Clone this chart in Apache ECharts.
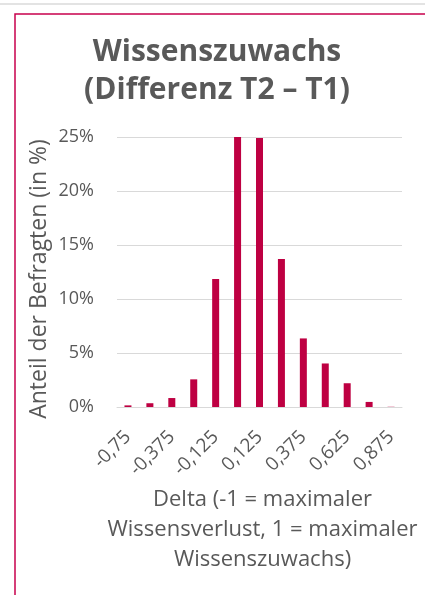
<!DOCTYPE html>
<html>
<head>
<meta charset="utf-8">
<script src="https://cdn.jsdelivr.net/npm/echarts@6/dist/echarts.min.js"></script>
<style>
  html, body { margin: 0; padding: 0; background: #fff; }
  #chart { width: 425px; height: 595px; }
</style>
</head>
<body>
<div id="chart"></div>
<script>
// Delta-Kategorien (x-Achse)
const categories = ["-0,75", "-0,5", "-0,375", "-0,25", "-0,125", "0", "0,125", "0,25", "0,375", "0,5", "0,625", "0,75", "0,875"];
// Anteil der Befragten in %
const shares = [0.15, 0.35, 0.83, 2.56, 11.85, 25.1, 24.9, 13.7, 6.35, 4.03, 2.2, 0.47, 0.02];
// y-Achse
const yMin = 0;
const yMax = 25;
const yStep = 5;

const textColor = "#595959";
const barColor = "#be0042";
const gridColor = "#d9d9d9";

const chart = echarts.init(document.getElementById("chart"), null, { renderer: "canvas" });

chart.setOption({
  backgroundColor: "#fff",
  animation: false,
  textStyle: { fontFamily: "Open Sans" },
  title: {
    text: "Wissenszuwachs\n(Differenz T2 – T1)",
    left: 212,
    textAlign: "center",
    top: 28,
    textStyle: {
      fontFamily: "Open Sans",
      fontWeight: "bold",
      fontSize: 30,
      lineHeight: 38,
      color: textColor
    }
  },
  graphic: [
    { type: "line", shape: { x1: 0, y1: 4, x2: 425, y2: 4 }, style: { stroke: "#e3e3e3", lineWidth: 2 } },
    { type: "rect", shape: { x: 15, y: 14, width: 600, height: 700 }, style: { fill: null, stroke: "#c8004c", lineWidth: 1.5 } },
    // y-Achsentitel
    {
      type: "text",
      x: 39,
      y: 279,
      rotation: Math.PI / 2,
      style: {
        text: "Anteil der Befragten (in %)",
        align: "center",
        verticalAlign: "middle",
        fontFamily: "Open Sans",
        fontSize: 23,
        fill: textColor
      }
    }
  ],
  grid: { left: 117, right: 23, top: 137, bottom: 188 },
  xAxis: {
    type: "category",
    data: categories,
    axisLine: { lineStyle: { color: gridColor } },
    axisTick: { show: false },
    axisLabel: {
      interval: 1,
      rotate: 45,
      fontSize: 19,
      color: textColor,
      margin: 27
    },
    name: "Delta (-1 = maximaler\nWissensverlust, 1 = maximaler\nWissenszuwachs)",
    nameLocation: "middle",
    nameGap: 78,
    nameTextStyle: { fontSize: 22, lineHeight: 30, color: textColor, padding: [0, 0, 0, 6] }
  },
  yAxis: {
    type: "value",
    min: yMin,
    max: yMax,
    interval: yStep,
    axisLine: { show: false },
    axisTick: { show: false },
    splitLine: { lineStyle: { color: gridColor } },
    axisLabel: { formatter: "{value}%", fontSize: 18, color: textColor, margin: 23 }
  },
  series: [{
    type: "bar",
    data: shares,
    barWidth: 7,
    itemStyle: { color: barColor }
  }]
});
</script>
</body>
</html>
